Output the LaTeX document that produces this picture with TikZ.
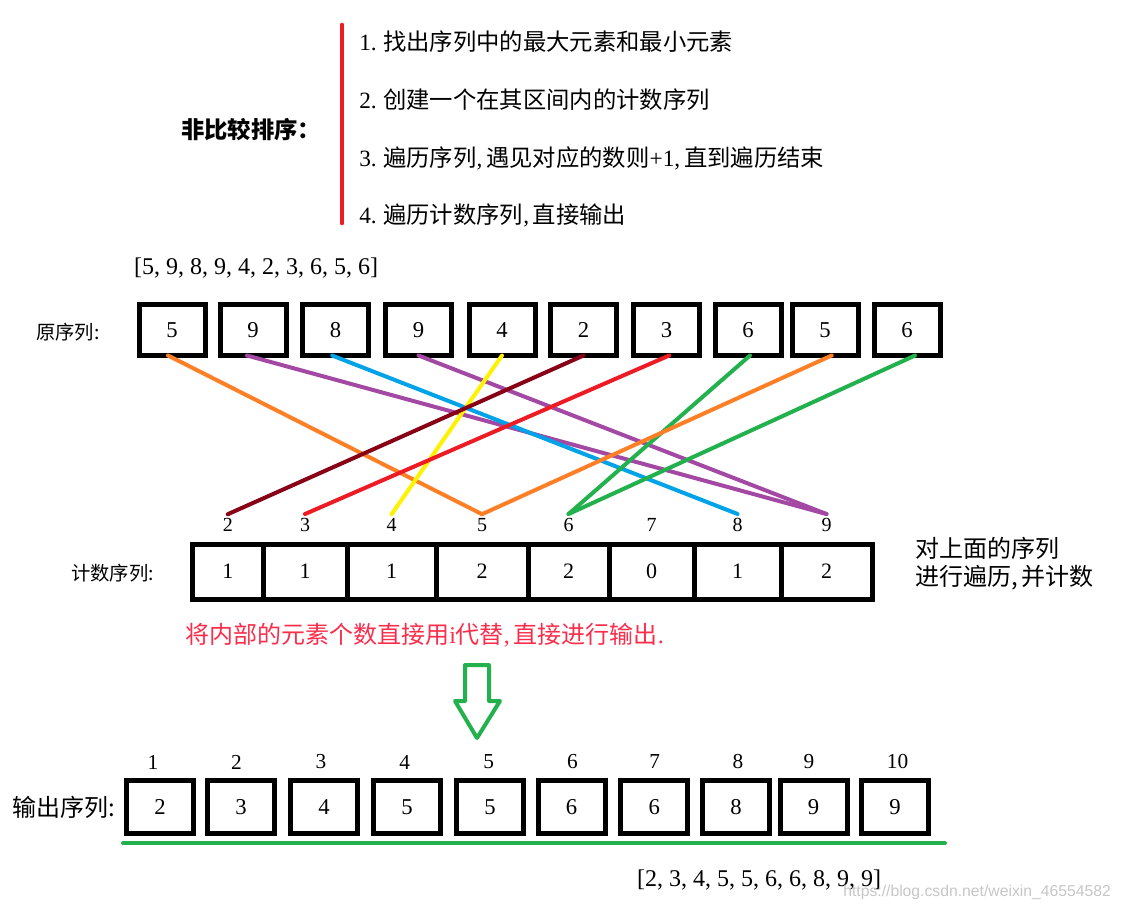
\documentclass[tikz,border=0pt]{standalone}
\usepackage{fontspec}
\setmainfont{Liberation Serif}
\setsansfont{Liberation Sans}
\newfontfamily\cjk{Noto Sans CJK SC}
\usetikzlibrary{positioning}
\definecolor{paintorange}{RGB}{255,127,39}
\definecolor{paintpurple}{RGB}{163,73,164}
\definecolor{paintblue}{RGB}{0,162,232}
\definecolor{paintyellow}{RGB}{255,242,0}
\definecolor{paintdarkred}{RGB}{136,0,21}
\definecolor{paintred}{RGB}{237,28,36}
\definecolor{paintgreen}{RGB}{34,177,76}
\definecolor{notered}{RGB}{250,45,75}

\begin{document}
\begin{tikzpicture}[
  x=0.75pt, y=-0.75pt,
  seqbox/.style={draw, line width=3.75pt, outer sep=0pt, inner sep=0pt,
                 minimum width=49.5pt, minimum height=38.25pt,
                 font=\fontsize{17}{17}\selectfont},
  outbox/.style={seqbox, minimum width=50.25pt, minimum height=39.75pt},
  countcell/.style={draw, line width=3.75pt, outer sep=0pt, inner sep=0pt,
                    minimum height=41.25pt, font=\fontsize{16.5}{16.5}\selectfont},
  idx/.style={inner sep=3pt, font=\fontsize{15}{15}\selectfont},
  outidx/.style={inner sep=0pt, font=\fontsize{16}{16}\selectfont},
  rowlabel/.style={anchor=west, inner sep=0pt, font=\cjk\fontsize{14.5}{14.5}\selectfont},
  steptext/.style={anchor=west, inner sep=0pt, font=\fontsize{17.5}{17.5}\selectfont},
  arraytext/.style={inner sep=0pt, font=\fontsize{18}{18}\selectfont},
  link/.style={line width=3pt, line cap=round},
]
\useasboundingbox (0,0) rectangle (1128,910);

% header
\node[font=\cjk\bfseries\fontsize{17.5}{17.5}\selectfont] (title) at (251,130) {非比较排序：};
\draw[paintred, line width=3.5pt, line cap=round] (342,25) -- (342,223);
\node[steptext] (s1) at (359,42) {1.\;{\cjk 找出序列中的最大元素和最小元素}};
\node[steptext] (s2) at (359,100) {2.\;{\cjk 创建一个在其区间内的计数序列}};
\node[steptext] (s3) at (359,158) {3.\;{\cjk 遍历序列},\,{\cjk 遇见对应的数则}+1,\,{\cjk 直到遍历结束}};
\node[steptext] (s4) at (359,215) {4.\;{\cjk 遍历计数序列},\,{\cjk 直接输出}};

% original sequence
\node[arraytext] (orig) at (256,268) {[5, 9, 8, 9, 4, 2, 3, 6, 5, 6]};
\node[rowlabel] (origlabel) at (36,332) {原序列:};
\node[seqbox] (o1) at (172,330) {5};
\node[seqbox] (o2) at (253,330) {9};
\node[seqbox] (o3) at (335.5,330) {8};
\node[seqbox] (o4) at (418.5,330) {9};
\node[seqbox] (o5) at (502,330) {4};
\node[seqbox] (o6) at (583.5,330) {2};
\node[seqbox] (o7) at (666.5,330) {3};
\node[seqbox] (o8) at (748,330) {6};
\node[seqbox] (o9) at (825,330) {5};
\node[seqbox] (o10) at (907,330) {6};

% count sequence
\node[rowlabel] (countlabel) at (71,573) {计数序列:};
\node[countcell, minimum width=52.9pt] (c1) at (227.75,571.5) {1};
\node[countcell, minimum width=63pt, right=0pt of c1] (c2) {1};
\node[countcell, minimum width=66.75pt, right=0pt of c2] (c3) {1};
\node[countcell, minimum width=69pt, right=0pt of c3] (c4) {2};
\node[countcell, minimum width=60.75pt, right=0pt of c4] (c5) {2};
\node[countcell, minimum width=63.75pt, right=0pt of c5] (c6) {0};
\node[countcell, minimum width=65.25pt, right=0pt of c6] (c7) {1};
\node[countcell, minimum width=68.25pt, right=0pt of c7] (c8) {2};
\node[idx, above=6pt of c1] (n2) {2};
\node[idx, above=6pt of c2] (n3) {3};
\node[idx, above=6pt of c3] (n4) {4};
\node[idx, above=6pt of c4] (n5) {5};
\node[idx, above=6pt of c5] (n6) {6};
\node[idx, above=6pt of c6] (n7) {7};
\node[idx, above=6pt of c7] (n8) {8};
\node[idx, above=6pt of c8] (n9) {9};
\node[anchor=west, inner sep=0pt, align=left, font=\cjk\fontsize{18}{21}\selectfont]
  (note) at (915,564) {对上面的序列\\进行遍历,\,并计数};

% value -> counter links
\draw[link, paintorange] ([xshift=-3pt]o1.south) -- (n5.north);
\draw[link, paintpurple] ([xshift=-4.5pt]o2.south) -- (n9.north);
\draw[link, paintblue] ([xshift=-2.5pt]o3.south) -- (n8.north);
\draw[link, paintpurple] (o4.south) -- (n9.north);
\draw[link, paintyellow] (o5.south) -- (n4.north);
\draw[link, paintdarkred] (o6.south) -- (n2.north);
\draw[link, paintred] ([xshift=2pt]o7.south) -- (n3.north);
\draw[link, paintgreen] ([xshift=1.5pt]o8.south) -- (n6.north);
\draw[link, paintorange] ([xshift=5pt]o9.south) -- (n5.north);
\draw[link, paintgreen] ([xshift=6pt]o10.south) -- (n6.north);

\node[anchor=west, inner sep=0pt, text=notered, font=\fontsize{18}{18}\selectfont] (hint) at (185,635)
  {{\cjk 将内部的元素个数直接用}i{\cjk 代替},\,{\cjk 直接进行输出}.};
\draw[paintgreen, line width=3pt, line join=round]
  (465,665) -- (489,665) -- (489,701) -- (500,701) -- (477,738) -- (455,701) -- (465,701) -- cycle;

% output sequence
\node[anchor=west, inner sep=0pt, font=\cjk\fontsize{18}{18}\selectfont] (outlabel) at (12,807) {输出序列:};
\node[outbox] (r1) at (160,807) {2};
\node[outbox] (r2) at (241,807) {3};
\node[outbox] (r3) at (324,807) {4};
\node[outbox] (r4) at (407,807) {5};
\node[outbox] (r5) at (490,807) {5};
\node[outbox] (r6) at (571.5,807) {6};
\node[outbox] (r7) at (654.3,807) {6};
\node[outbox] (r8) at (736,807) {8};
\node[outbox] (r9) at (813.6,807) {9};
\node[outbox] (r10) at (895,807) {9};
\node[outidx] (i1) at (153,762) {1};
\node[outidx] (i2) at (236.4,762) {2};
\node[outidx] (i3) at (321,762) {3};
\node[outidx] (i4) at (404.6,762) {4};
\node[outidx] (i5) at (488.6,762) {5};
\node[outidx] (i6) at (572.5,762) {6};
\node[outidx] (i7) at (654.6,762) {7};
\node[outidx] (i8) at (738,762) {8};
\node[outidx] (i9) at (809,762) {9};
\node[outidx] (i10) at (897.5,762) {10};
\draw[paintgreen, line width=3pt, line cap=round] (123,843) -- (945,843);
\node[arraytext] (result) at (759,880) {[2, 3, 4, 5, 5, 6, 6, 8, 9, 9]};
\node[anchor=west, inner sep=0pt, text=gray!45, font=\sffamily\fontsize{11.8}{11.8}\selectfont]
  (mark) at (843,892) {https://blog.csdn.net/weixin\_46554582};

\end{tikzpicture}
\end{document}
